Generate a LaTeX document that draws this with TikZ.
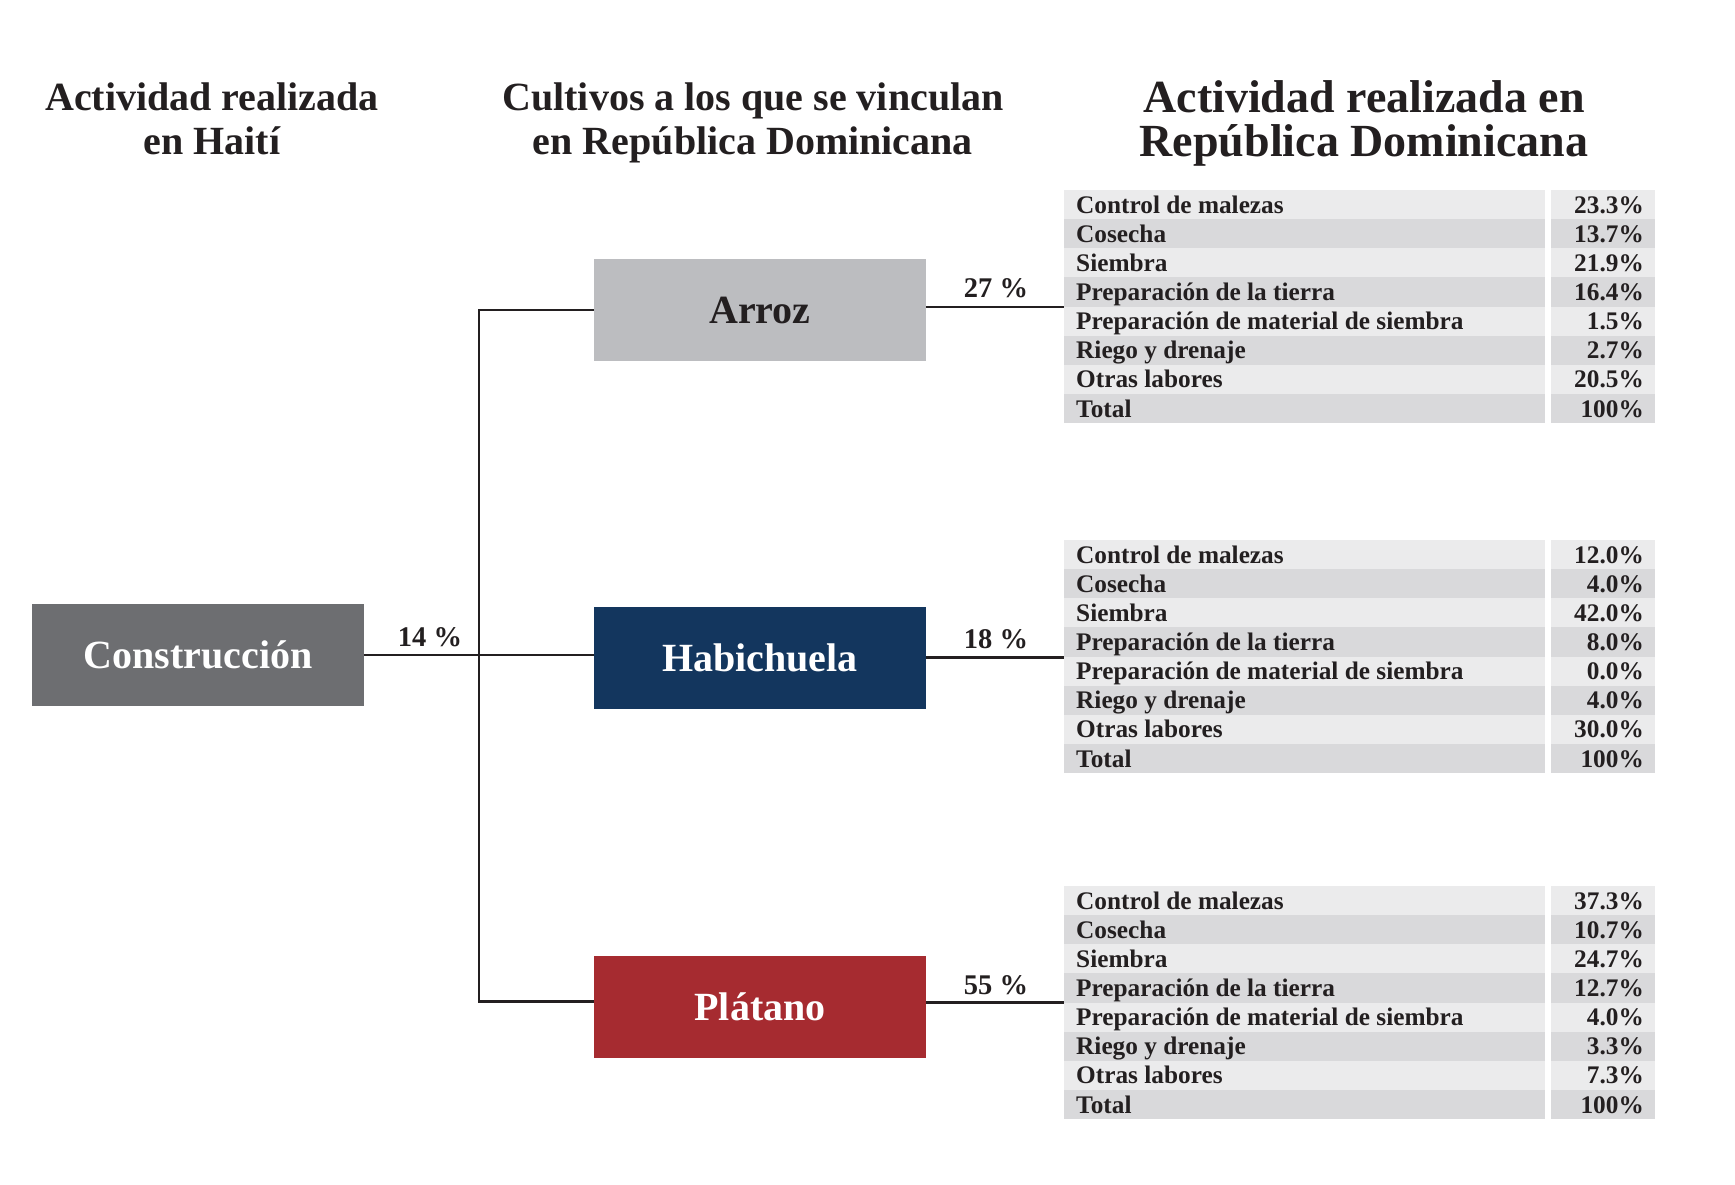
\documentclass[tikz,border=0pt]{standalone}
\usepackage{fontspec}
\setmainfont{Liberation Serif}
\definecolor{txt}{HTML}{231F20}
\definecolor{consgray}{HTML}{6D6E71}
\definecolor{arrozgray}{HTML}{BCBDC0}
\definecolor{habiblue}{HTML}{13365E}
\definecolor{platred}{HTML}{A62B30}
\definecolor{rowlight}{HTML}{EBEBEC}
\definecolor{rowdark}{HTML}{D9D9DB}
\tikzset{
  cropbox/.style={minimum width=332pt, minimum height=102pt, inner sep=0pt,
    font=\fontsize{40}{42}\selectfont\bfseries},
  header/.style={align=center, text=txt, inner sep=0pt,
    font=\fontsize{40}{44}\selectfont\bfseries},
  pct/.style={anchor=south, inner sep=0pt, text=txt,
    font=\fontsize{28.5}{30}\selectfont\bfseries},
  conn/.style={draw=txt, line width=2.5pt},
  rowtext/.style={anchor=base west, inner sep=0pt, text=txt,
    font=\fontsize{25.3}{27}\selectfont\bfseries},
  rowval/.style={anchor=base east, inner sep=0pt, text=txt,
    font=\fontsize{25.3}{27}\selectfont\bfseries}
}
\newcommand{\croptable}[3]{%
  \foreach \lab/\val [count=\i] in {#3}{%
    \pgfmathsetmacro{\ytop}{#2+(\i-1)*29.125}
    \pgfmathsetmacro{\ybot}{#2+\i*29.125}
    \pgfmathsetmacro{\ybase}{#2+(\i-1)*29.125+23.2}
    \pgfmathparse{mod(\i,2)==1 ? "rowlight" : "rowdark"}
    \edef\rc{\pgfmathresult}
    \fill[\rc] (1064,\ytop) rectangle (1545,\ybot);
    \fill[\rc] (1551,\ytop) rectangle (1655,\ybot);
    \node[rowtext] (#1l\i) at (1076,\ybase) {\lab};
    \node[rowval] (#1v\i) at (1644,\ybase) {\val};
  }%
}
\begin{document}
\begin{tikzpicture}[x=1pt,y=-1pt]
\useasboundingbox (0,0) rectangle (1735,1185);
% headers
\node[header] (h1) at (212,119) {Actividad realizada\\en Haití};
\node[header] (h2) at (753,123) {Cultivos a los que se vinculan\\en República Dominicana};
\node[header, font=\fontsize{46}{44}\selectfont\bfseries] (h3) at (1364,123) {Actividad realizada en\\República Dominicana};
% boxes
\node[cropbox, fill=consgray, text=white] (cons) at (198,655) {Construcción};
\node[cropbox, fill=arrozgray, text=txt] (arroz) at (760,310) {Arroz};
\node[cropbox, fill=habiblue, text=white] (habi) at (760,657.5) {Habichuela};
\node[cropbox, fill=platred, text=white] (plat) at (760,1007) {Plátano};
% tables
\croptable{ta}{190}{Control de malezas/23.3\%, Cosecha/13.7\%, Siembra/21.9\%, Preparación de la tierra/16.4\%, Preparación de material de siembra/1.5\%, Riego y drenaje/2.7\%, Otras labores/20.5\%, Total/100\%}
\croptable{tb}{540}{Control de malezas/12.0\%, Cosecha/4.0\%, Siembra/42.0\%, Preparación de la tierra/8.0\%, Preparación de material de siembra/0.0\%, Riego y drenaje/4.0\%, Otras labores/30.0\%, Total/100\%}
\croptable{tc}{886}{Control de malezas/37.3\%, Cosecha/10.7\%, Siembra/24.7\%, Preparación de la tierra/12.7\%, Preparación de material de siembra/4.0\%, Riego y drenaje/3.3\%, Otras labores/7.3\%, Total/100\%}
% connector coordinates
\coordinate (jtop) at (479,310);
\coordinate (jbot) at (479,1001.5);
\coordinate (ta) at (1064,307);
\coordinate (tb) at (1064,657.5);
\coordinate (tc) at (1064,1002.5);
% connectors
\draw[conn] (cons.east) -- (cons.east -| habi.west);
\draw[conn] (arroz.west) -- (jtop) -- (jbot) -- (jbot -| plat.west);
\draw[conn] (arroz.east |- ta) -- (ta);
\draw[conn] (habi.east) -- (tb);
\draw[conn] (plat.east |- tc) -- (tc);
% percentages
\node[pct] (p14) at (430,647) {14 \%};
\node[pct] (p27) at (996,298) {27 \%};
\node[pct] (p18) at (996,649) {18 \%};
\node[pct] (p55) at (996,995) {55 \%};
\end{tikzpicture}
\end{document}
